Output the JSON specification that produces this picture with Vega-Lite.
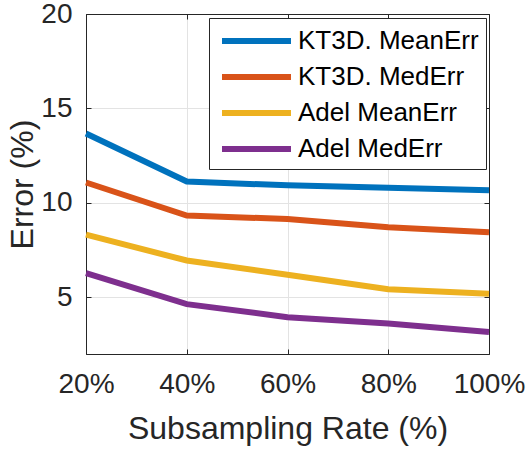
{
  "$schema": "https://vega.github.io/schema/vega-lite/v6.json",
  "width": 403,
  "height": 340,
  "autosize": {"type": "none"},
  "padding": {"left": 86, "top": 14, "right": 43, "bottom": 101},
  "background": "white",
  "data": {
    "values": [
      {"rate": 20, "series": "KT3D. MeanErr", "error": 13.67},
      {"rate": 40, "series": "KT3D. MeanErr", "error": 11.13},
      {"rate": 60, "series": "KT3D. MeanErr", "error": 10.93},
      {"rate": 80, "series": "KT3D. MeanErr", "error": 10.8},
      {"rate": 100, "series": "KT3D. MeanErr", "error": 10.67},
      {"rate": 20, "series": "KT3D. MedErr", "error": 11.08},
      {"rate": 40, "series": "KT3D. MedErr", "error": 9.33},
      {"rate": 60, "series": "KT3D. MedErr", "error": 9.15},
      {"rate": 80, "series": "KT3D. MedErr", "error": 8.71},
      {"rate": 100, "series": "KT3D. MedErr", "error": 8.45},
      {"rate": 20, "series": "Adel MeanErr", "error": 8.32},
      {"rate": 40, "series": "Adel MeanErr", "error": 6.95},
      {"rate": 60, "series": "Adel MeanErr", "error": 6.2},
      {"rate": 80, "series": "Adel MeanErr", "error": 5.43},
      {"rate": 100, "series": "Adel MeanErr", "error": 5.19},
      {"rate": 20, "series": "Adel MedErr", "error": 6.28},
      {"rate": 40, "series": "Adel MedErr", "error": 4.64},
      {"rate": 60, "series": "Adel MedErr", "error": 3.95},
      {"rate": 80, "series": "Adel MedErr", "error": 3.61},
      {"rate": 100, "series": "Adel MedErr", "error": 3.17}
    ]
  },
  "config": {
    "font": "Liberation Sans",
    "view": {"stroke": "#262626", "strokeWidth": 1},
    "axis": {
      "domainColor": "#262626",
      "tickColor": "#262626",
      "labelColor": "#262626",
      "titleColor": "#262626",
      "gridColor": "#e3e3e3",
      "labelFont": "Liberation Sans",
      "titleFont": "Liberation Sans",
      "labelFontSize": 28,
      "titleFontSize": 32,
      "titleFontWeight": "normal",
      "tickSize": -5
    }
  },
  "layer": [
    {
      "mark": {"type": "line", "strokeWidth": 6},
      "encoding": {
        "x": {
          "field": "rate",
          "type": "quantitative",
          "scale": {"domain": [20, 100], "nice": false, "zero": false},
          "axis": {
            "values": [20, 40, 60, 80, 100],
            "labelExpr": "datum.value + '%'",
            "title": "Subsampling Rate (%)",
            "labelPadding": 21,
            "titlePadding": 15,
            "grid": true,
            "labelFlush": false,
            "labelOverlap": false
          }
        },
        "y": {
          "field": "error",
          "type": "quantitative",
          "scale": {"domain": [2, 20], "nice": false, "zero": false},
          "axis": {
            "values": [5, 10, 15, 20],
            "title": "Error (%)",
            "labelPadding": 19,
            "titlePadding": 1,
            "grid": true,
            "labelFlush": false,
            "labelOverlap": false
          }
        },
        "color": {
          "field": "series",
          "type": "nominal",
          "scale": {
            "domain": ["KT3D. MeanErr", "KT3D. MedErr", "Adel MeanErr", "Adel MedErr"],
            "range": ["#0072BD", "#D95319", "#EDB120", "#7E2F8E"]
          },
          "legend": {
            "title": null,
            "orient": "none",
            "legendX": 123,
            "legendY": 4,
            "symbolType": "M-0.769,0H4.538",
            "symbolSize": 676,
            "symbolStrokeWidth": 6,
            "labelFontSize": 26,
            "labelFont": "Liberation Sans",
            "labelColor": "#000000",
            "labelOffset": 50,
            "rowPadding": 7,
            "padding": 7,
            "strokeColor": "#262626",
            "fillColor": "white",
            "labelLimit": 300
          }
        }
      }
    },
    {
      "mark": {"type": "line", "opacity": 0},
      "encoding": {
        "x": {
          "field": "rate",
          "type": "quantitative",
          "scale": {"domain": [20, 100], "nice": false, "zero": false},
          "axis": {"orient": "top", "values": [20, 40, 60, 80, 100], "labels": false, "title": null, "grid": false}
        },
        "y": {
          "field": "error",
          "type": "quantitative",
          "scale": {"domain": [2, 20], "nice": false, "zero": false},
          "axis": {"orient": "right", "values": [5, 10, 15, 20], "labels": false, "title": null, "grid": false}
        }
      }
    }
  ],
  "resolve": {"axis": {"x": "independent", "y": "independent"}}
}
